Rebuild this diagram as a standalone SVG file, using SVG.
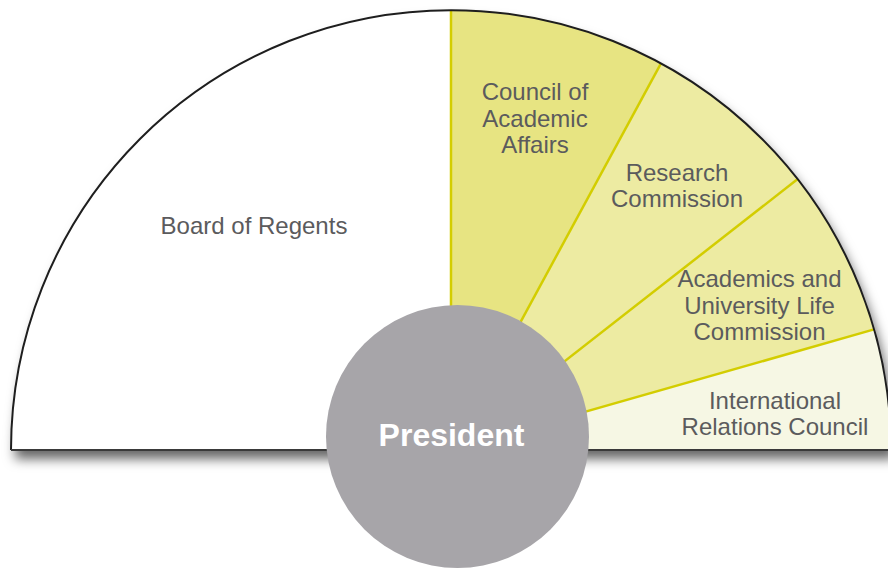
<svg xmlns="http://www.w3.org/2000/svg" width="888" height="568" viewBox="0 0 888 568">
  <defs>
    <filter id="shadow" x="-10%" y="-10%" width="130%" height="130%">
      <feDropShadow dx="4" dy="9" stdDeviation="6" flood-color="#000" flood-opacity="0.6"/>
    </filter>
    <style>
      .lbl { font-family: "Liberation Sans", Arial, sans-serif; font-size: 24px; fill: #5b5b5d; text-anchor: middle; }
      .div { stroke: #d3cd00; stroke-width: 2.5; fill: none; }
      .outline { fill: none; stroke: #1e1e1e; stroke-width: 2; }
    </style>
  </defs>

  <rect width="888" height="568" fill="#ffffff"/>

  <!-- base semicircle with shadow -->
  <path d="M11,450 A440,440 0 0 1 891,450 Z" fill="#ffffff" filter="url(#shadow)"/>

  <g id="board-of-regents">
    <path d="M11,450 A440,440 0 0 1 451,10 L451,450 Z" fill="#ffffff"/>
    <text class="lbl" x="254" y="234">Board of Regents</text>
  </g>

  <g id="council-academic-affairs">
    <path d="M451,450 L451,10 A440,440 0 0 1 661,63.3 Z" fill="#e7e482"/>
    <text class="lbl" x="535" y="100">Council of</text>
    <text class="lbl" x="535" y="126.5">Academic</text>
    <text class="lbl" x="535" y="153">Affairs</text>
  </g>

  <g id="research-commission">
    <path d="M451,450 L661,63.3 A440,440 0 0 1 797.7,179.1 Z" fill="#edeba2"/>
    <text class="lbl" x="677" y="180.5">Research</text>
    <text class="lbl" x="677" y="207">Commission</text>
  </g>

  <g id="academics-university-life">
    <path d="M451,450 L797.7,179.1 A440,440 0 0 1 874.1,329.4 Z" fill="#edeba2"/>
    <text class="lbl" x="759.5" y="287">Academics and</text>
    <text class="lbl" x="759.5" y="313.5">University Life</text>
    <text class="lbl" x="759.5" y="340">Commission</text>
  </g>

  <g id="international-relations">
    <path d="M451,450 L874.1,329.4 A440,440 0 0 1 891,450 Z" fill="#f6f7e4"/>
    <text class="lbl" x="775" y="408.5">International</text>
    <text class="lbl" x="775" y="435">Relations Council</text>
  </g>

  <g id="connectors">
    <line class="div" x1="451" y1="450" x2="451" y2="11"/>
    <line class="div" x1="451" y1="450" x2="661" y2="63.3"/>
    <line class="div" x1="451" y1="450" x2="797.7" y2="179.1"/>
    <line class="div" x1="451" y1="450" x2="874.1" y2="329.4"/>
  </g>

  <path class="outline" d="M11,450 A440,440 0 0 1 891,450"/>
  <line x1="11" y1="450" x2="888" y2="450" stroke="#3a3a3a" stroke-width="2"/>

  <g id="president">
    <circle cx="457.5" cy="436.5" r="131.5" fill="#a7a5a9"/>
    <text x="451.5" y="446" font-family="Liberation Sans, Arial, sans-serif" font-size="32" font-weight="bold" fill="#ffffff" text-anchor="middle">President</text>
  </g>
</svg>
